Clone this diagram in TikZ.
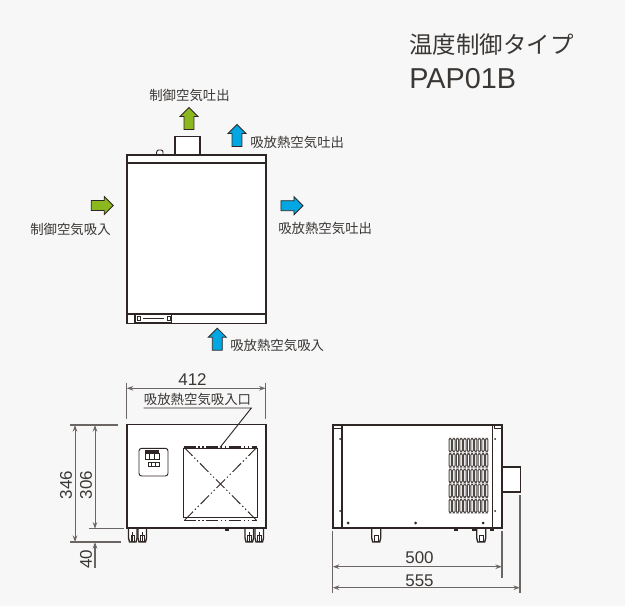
\documentclass[tikz,border=0pt]{standalone}
\usepackage{fontspec}
\setmainfont{Liberation Sans}
\newfontfamily\jpfont{Noto Sans CJK JP}
\usetikzlibrary{shapes.arrows, arrows.meta}
\definecolor{bggray}{HTML}{F7F7F7}
\definecolor{inkdark}{HTML}{2E2624}
\definecolor{dimgray}{HTML}{6B6664}
\definecolor{txtgray}{HTML}{3A3735}
\definecolor{ctrlgreen}{HTML}{8AB81E}
\definecolor{heatblue}{HTML}{00A7E3}
\tikzset{
    body/.style={draw=inkdark, line width=1.2pt, fill=white},
    thinpart/.style={draw=inkdark, line width=0.7pt},
    hidden/.style={draw=inkdark, line width=0.7pt, dash pattern=on 9pt off 2pt on 1pt off 2pt on 1pt off 2pt},
    dimline/.style={draw=dimgray, line width=0.7pt, {Stealth[open,length=5pt,width=3.5pt]}-{Stealth[open,length=5pt,width=3.5pt]}},
    extline/.style={draw=dimgray, line width=0.8pt},
    flowarrow/.style={single arrow, draw=inkdark, line width=0.6pt, inner sep=3.4pt,
        minimum height=16.5pt, minimum width=13.5pt, single arrow head extend=3pt,
        single arrow tip angle=90},
    jplabel/.style={font=\jpfont\fontsize{10.05pt}{11pt}\selectfont, text=txtgray, inner sep=0pt},
    numlabel/.style={font=\fontsize{12.7pt}{14pt}\selectfont, text=txtgray, inner sep=0pt}
}
\begin{document}
\begin{tikzpicture}[x=0.75pt, y=-0.75pt]
    \fill[bggray] (0,0) rectangle (625,606);
    \useasboundingbox (0,0) rectangle (625,606);

    % title
    \node[font=\jpfont\fontsize{17.6pt}{20pt}\selectfont, text=txtgray, inner sep=0pt, anchor=west] (titlejp) at (409,45) {温度制御タイプ};
    \node[font=\fontsize{21.6pt}{23pt}\selectfont, text=txtgray, inner sep=0pt, anchor=west] (titlemodel) at (409,79) {PAP01B};

    % top view
    \draw[body] (174.7,155) rectangle (200,136.7);
    \draw[thinpart, fill=white, rounded corners=1.5pt] (156.7,155) -- (156.7,150) -- (163,150) -- (163,155);
    \draw[body] (126.7,155) rectangle (265.7,323.5);
    \draw[thinpart, line width=1pt] (126.7,163) -- (265.7,163);
    \draw[thinpart, line width=1pt] (126.7,314) -- (265.7,314);
    \draw[thinpart, line width=1pt] (135,314) rectangle (171.7,322.5);
    \draw[thinpart, line width=1.2pt] (143,318.5) -- (164,318.5);
    \draw[thinpart] (137,316) rectangle (140,320);
    \draw[thinpart] (167,316) rectangle (170,320);

    % air flow arrows
    \node[flowarrow, fill=ctrlgreen, shape border rotate=90] (outgreen) at (189,121) {};
    \node[flowarrow, fill=heatblue, shape border rotate=90] (outblue) at (237,138) {};
    \node[flowarrow, fill=heatblue, shape border rotate=90] (inblue) at (217.3,341.7) {};
    \node[flowarrow, fill=ctrlgreen] (ingreen) at (99.7,205.5) {};
    \node[flowarrow, fill=heatblue] (sideblue) at (289.5,205.7) {};

    \node[jplabel] (outgreenlabel) at (189.5,95) {制御空気吐出};
    \node[jplabel, anchor=west] (outbluelabel) at (250,142) {吸放熱空気吐出};
    \node[jplabel, anchor=west] (inbluelabel) at (230,345) {吸放熱空気吸入};
    \node[jplabel] (ingreenlabel) at (70.5,229) {制御空気吸入};
    \node[jplabel, anchor=west] (sidebluelabel) at (278,228) {吸放熱空気吐出};

    % front view
    \foreach \x in {128.5,138,245,255} {
        \draw[thinpart, fill=white, line width=1pt] (\x,528) -- (\x,538) -- (\x+1,542) -- (\x+7.5,542) -- (\x+8.5,538) -- (\x+8.5,528);
        \draw[thinpart] (\x+2.5,535.5) rectangle (\x+6,541);
        \draw[thinpart] (\x+4.2,532) -- (\x+4.2,541);
    }
    \fill[inkdark] (225,528) rectangle (229,531);
    \draw[body] (126.7,424.5) rectangle (265.7,527.7);
    \draw[thinpart, fill=white, rounded corners=2pt] (139,448.3) rectangle (168,476);
    \fill[inkdark] (145,450) rectangle (159,453);
    \draw[thinpart] (145,453) rectangle (159,459.3);
    \foreach \x in {149.7,154.4} \draw[thinpart] (\x,453) -- (\x,459.3);
    \draw[thinpart] (148.3,462.7) rectangle (159,466.7);
    \foreach \x in {151.9,155.4} \draw[thinpart] (\x,462.7) -- (\x,466.7);

    % inlet
    \node[draw=inkdark, line width=0.7pt, minimum width=55.5pt, minimum height=52pt, inner sep=0pt, anchor=north] (inletbox) at (220,447.5) {};
    \draw[hidden, line width=1pt] (183.5,447) -- (257,447);
    \draw[hidden] (183.5,520.7) -- (257,520.7);
    \draw[hidden] (184,447.3) -- (257,520.7);
    \draw[hidden] (257,447.3) -- (184,520.7);
    \node[jplabel, anchor=south, inner ysep=1.5pt] (inletlabel) at (197.5,408) {吸放熱空気吸入口};
    \draw[thinpart] (inletlabel.south west) -- (inletlabel.south east) -- (inletbox.north);

    % front dimensions
    \draw[extline] (126.7,383) -- (126.7,419);
    \draw[extline] (265.7,383) -- (265.7,419);
    \draw[dimline] (126.7,388.3) -- (265.7,388.3);
    \node[numlabel] (width412) at (192.5,380) {412};
    \draw[extline] (70,425) -- (118,425);
    \draw[extline] (89,528.7) -- (124,528.7);
    \draw[extline] (70,542) -- (121,542);
    \draw[dimline] (75,425) -- (75,542);
    \draw[dimline] (95,425) -- (95,528.7);
    \draw[extline, {Stealth[open,length=5pt,width=3.5pt]}-] (95,542) -- (95,568);
    \node[numlabel, rotate=90] (height346) at (66,485) {346};
    \node[numlabel, rotate=90] (height306) at (86,485) {306};
    \node[numlabel, rotate=90] (height40) at (86,559) {40};

    % side view
    \foreach \x in {371.7,476.7} {
        \draw[thinpart, fill=white, line width=1pt] (\x,528) -- (\x,538) -- (\x+1,542) -- (\x+8,542) -- (\x+9,538) -- (\x+9,528);
        \draw[thinpart] (\x+2.5,535.5) rectangle (\x+6.5,541);
    }
    \foreach \x in {454,472,490} \fill[inkdark] (\x,528) rectangle (\x+4,531);
    \draw[body] (502,466.7) rectangle (520.3,491.7);
    \draw[body] (332.7,424.7) rectangle (502,528);
    \draw[thinpart, line width=0.9pt] (342,424.7) -- (342,528);
    \draw[thinpart, line width=0.9pt] (492.7,424.7) -- (492.7,528);
    \draw[thinpart] (334,428) -- (341,428) -- (341,426);
    \draw[thinpart] (501,428) -- (494,428) -- (494,426);
    \foreach \x in {348,415.5,483} \fill[inkdark] (\x,523) circle (1.5);
    \foreach \x in {340,495} \foreach \y in {439,511} \fill[inkdark] (\x,\y) circle (1);
    \foreach \y in {438.3,453.5,469,484,499.3} {
        \foreach \x in {0,...,10} {
            \draw[draw=inkdark!85, line width=0.75pt, rounded corners=1pt] (449+3.65*\x,\y) rectangle (451.4+3.65*\x,\y+13.5);
        }
    }

    % side dimensions
    \draw[extline] (332.7,531) -- (332.7,593);
    \draw[extline] (502,531) -- (502,578);
    \draw[extline] (520,495) -- (520,593);
    \draw[dimline] (332.7,566.7) -- (502,566.7);
    \draw[dimline] (332.7,587.7) -- (520,587.7);
    \node[numlabel] (length500) at (419.5,558) {500};
    \node[numlabel] (length555) at (419.5,580.5) {555};
\end{tikzpicture}
\end{document}
